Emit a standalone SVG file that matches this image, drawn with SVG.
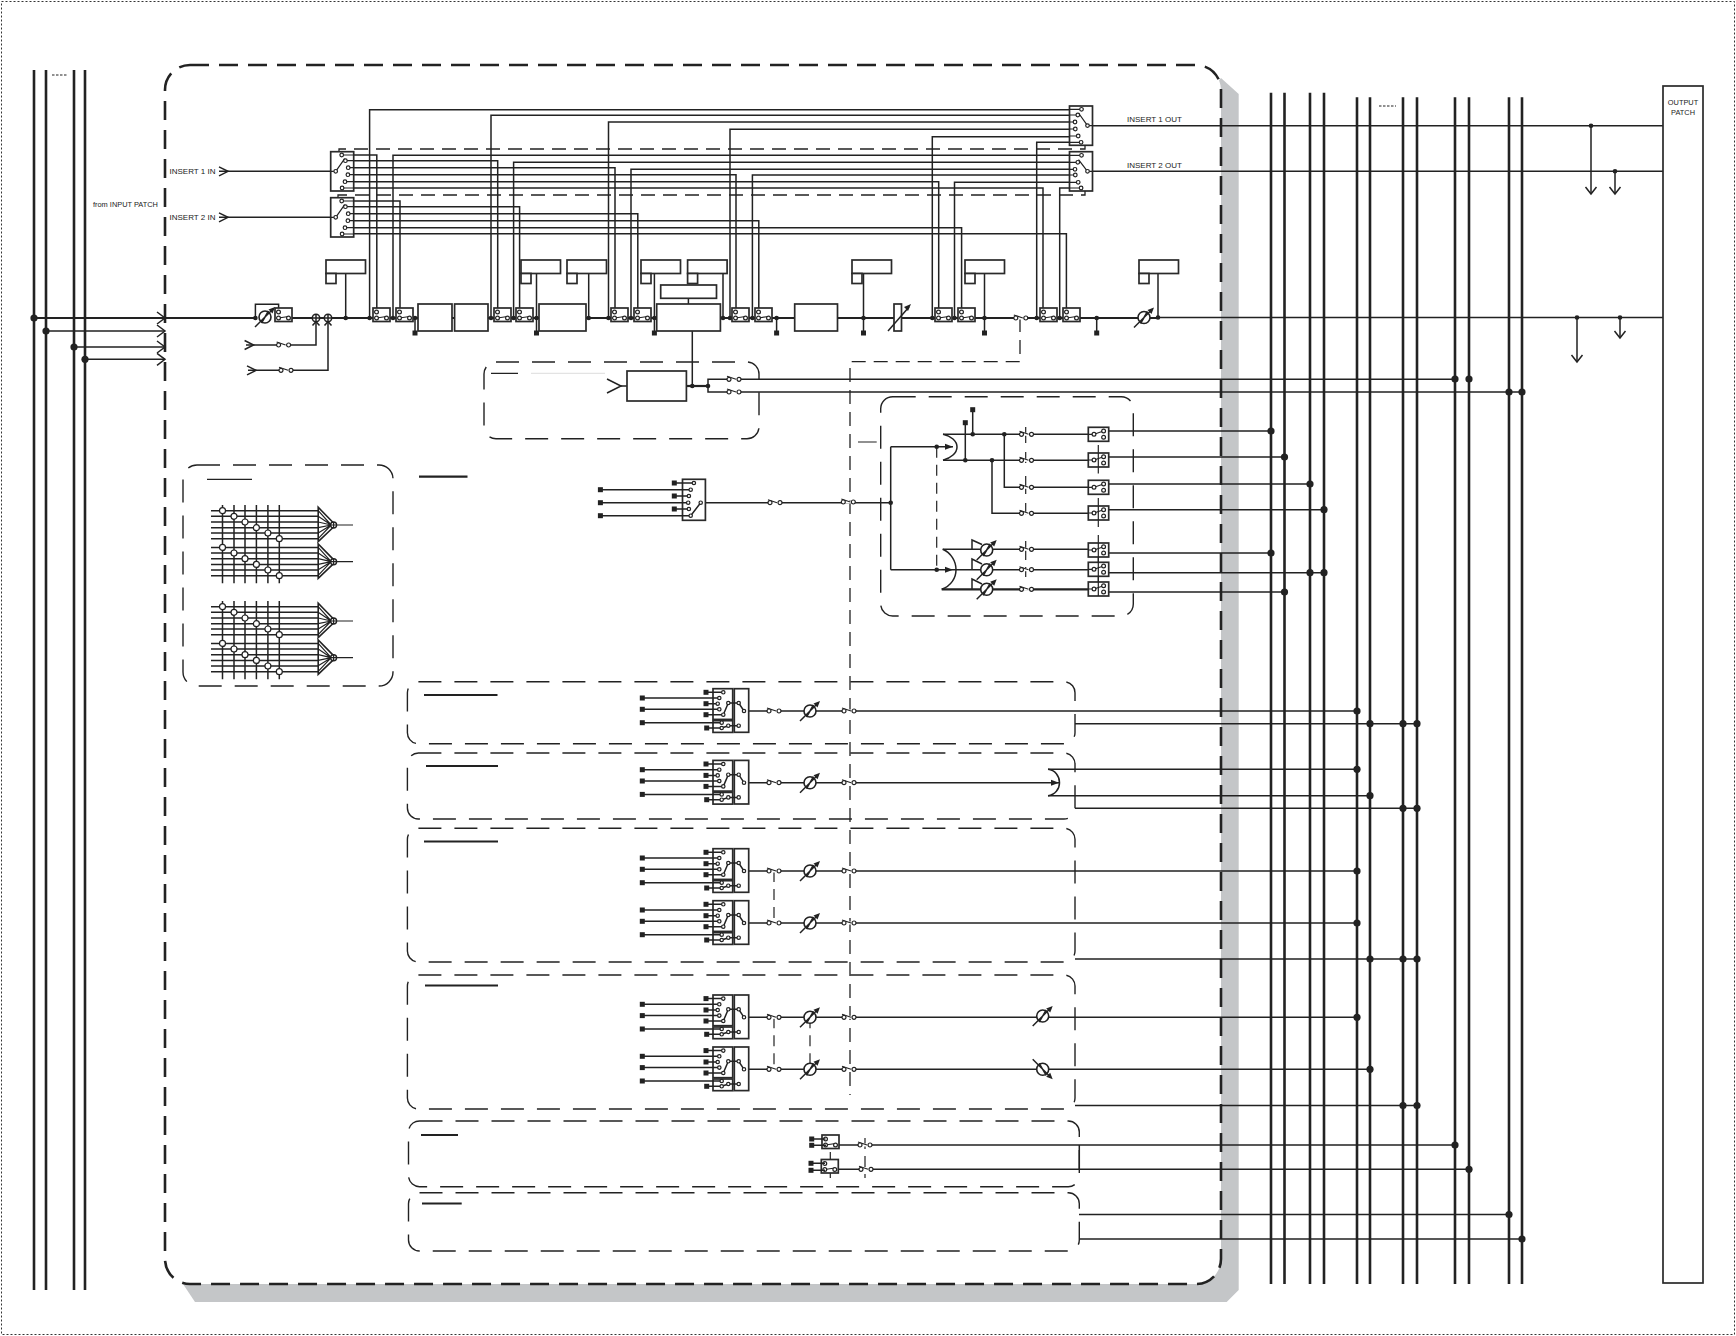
<svg xmlns="http://www.w3.org/2000/svg" width="1736" height="1336" viewBox="0 0 1736 1336">
<style>
.w{fill:none;stroke:#222;stroke-width:1.5}
.t{fill:none;stroke:#222;stroke-width:2.2}
.b{fill:none;stroke:#222;stroke-width:2.6}
.r{fill:#fff;stroke:#2a2a2a;stroke-width:1.7}
.c{fill:#fff;stroke:#222;stroke-width:1.2}
.f{fill:#222;stroke:none}
.n{fill:none;stroke:#222;stroke-width:1.2}
.d1{fill:#fff;stroke:#222;stroke-width:2.6;stroke-dasharray:19 10}
.d2{fill:none;stroke:#222;stroke-width:1.4;stroke-dasharray:23 13}
.d3{fill:none;stroke:#222;stroke-width:1.3;stroke-dasharray:14 8}
.d4{fill:none;stroke:#222;stroke-width:1.2;stroke-dasharray:11 7}
text{font-family:"Liberation Sans",Arial,sans-serif;font-size:8px;fill:#222}
</style>
<defs>
<g id="dot"><circle r="2.3" class="f"/></g>
<g id="bd"><circle r="3.6" class="f"/></g>
<g id="sq"><rect x="-2.5" y="-2.5" width="5" height="5" class="f"/></g>
<path id="chev" class="w" d="M-8,-6L0,0L-8,6"/>
<path id="chevs" class="w" d="M-9,-4.5L0,0L-9,4.5"/>
<path id="chevl" class="w" d="M-14,-7L0,0L-14,7"/>
<path id="down" class="w" d="M-5.5,-7L0,0L5.5,-7"/>
<g id="arrow"><polygon class="f" points="0,0 -8,-3 -8,3"/></g>
<g id="sw"><rect x="1" y="-1.5" width="8" height="3" fill="#fff"/><path class="n" d="M-2,-3L7,0"/><circle class="c" r="2"/><circle class="c" cx="10" r="2"/></g>
<g id="gain"><circle class="c" r="6" style="stroke-width:1.6"/><path class="w" d="M-10,10L8,-8M-3.5,6L3.5,-6"/><polygon class="f" points="10,-10 3.5,-7.5 7.5,-3.5"/></g>
<g id="ins"><rect class="r" width="17" height="13.5"/><path class="n" d="M3.5,10L13.5,8.5"/><circle class="c" cx="3.5" cy="4" r="1.9"/><circle class="c" cx="3.5" cy="10" r="1.9"/><circle class="c" cx="13.5" cy="10" r="1.9"/></g>
<g id="outbox"><rect class="r" width="20.4" height="14"/><path class="n" d="M5.7,7L15.3,3.7M0,7H5"/><circle class="c" cx="5.7" cy="7" r="1.9"/><circle class="c" cx="15.3" cy="3.7" r="1.9"/><circle class="c" cx="15.3" cy="10" r="1.9"/></g>
<g id="sel6"><rect class="r" width="23" height="39.3"/><path class="n" d="M11,3.3H23M14.7,9H23M17.5,16H23M17.2,23H23M14.3,30H23M11.4,36.3H23M0,19.6H5M5,19.6L14,7"/><circle class="c" cx="11" cy="3.3" r="1.8"/><circle class="c" cx="14.7" cy="9" r="1.8"/><circle class="c" cx="17.5" cy="16" r="1.8"/><circle class="c" cx="17.2" cy="23" r="1.8"/><circle class="c" cx="14.3" cy="30" r="1.8"/><circle class="c" cx="11.4" cy="36.3" r="1.8"/><circle class="c" cx="5" cy="19.6" r="1.8"/></g>
<g id="sel6b"><rect class="r" width="23" height="39.3"/><path class="n" d="M11,3.6H23M14.7,10.6H23M17.5,17.6H23M17.2,23.3H23M14.3,30.6H23M11.4,36.3H23M0,19.6H5M5,19.6L14,8"/><circle class="c" cx="11" cy="3.6" r="1.8"/><circle class="c" cx="14.7" cy="10.6" r="1.8"/><circle class="c" cx="17.5" cy="17.6" r="1.8"/><circle class="c" cx="17.2" cy="23.3" r="1.8"/><circle class="c" cx="14.3" cy="30.6" r="1.8"/><circle class="c" cx="11.4" cy="36.3" r="1.8"/><circle class="c" cx="5" cy="19.6" r="1.8"/></g>
<g id="meter"><rect class="r" width="39.5" height="13.5"/><rect class="r" y="13.5" width="10" height="10"/></g>
<g id="sum"><circle class="c" r="3.7" style="stroke-width:1.5"/><path class="w" d="M-3.7,0H3.7M0,-3.7V3.7M-3.5,7.5L0,3.7L3.5,7.5"/></g>
<g id="mix"><path d="M0,-17.7V16.7L15.4,2V-2Z" fill="#fff" stroke="#222" stroke-width="1.6"/><path class="n" d="M0,-14.3L13,0M0,-8.7L13,0M0,-3L13,0M0,2.7L13,0M0,8L13,0M0,13.7L13,0"/><circle class="c" cx="15.4" r="3" style="stroke-width:1.4"/><path class="n" d="M12.4,0H34.8M15.4,-3V3"/></g>
<g id="matrix">
<path class="w" d="M0,-14.3H107.2M0,-8.7H107.2M0,-3H107.2M0,2.7H107.2M0,8H107.2M0,13.7H107.2M0,22.4H107.2M0,28H107.2M0,33.7H107.2M0,39.4H107.2M0,45H107.2M0,50.7H107.2M11.5,-20V58.3M23,-20V58.3M34,-20V58.3M45.4,-20V58.3M56.9,-20V58.3M68.3,-20V58.3"/>
<g class="c"><circle cx="11.5" cy="-14.3" r="3"/><circle cx="23" cy="-8.7" r="3"/><circle cx="34" cy="-3" r="3"/><circle cx="45.4" cy="2.7" r="3"/><circle cx="56.9" cy="8" r="3"/><circle cx="68.3" cy="13.7" r="3"/><circle cx="11.5" cy="22.4" r="3"/><circle cx="23" cy="28" r="3"/><circle cx="34" cy="33.7" r="3"/><circle cx="45.4" cy="39.4" r="3"/><circle cx="56.9" cy="45" r="3"/><circle cx="68.3" cy="50.7" r="3"/></g>
<use href="#mix" x="107.2"/><use href="#mix" x="107.2" y="36.7"/>
</g>
<g id="strip">
<rect class="r" x="93" y="-22.3" width="19.7" height="30.7"/><rect class="r" x="93" y="9.7" width="19.7" height="11.7"/><rect class="r" x="114.3" y="-22.3" width="14.4" height="43.6"/>
<path class="w" d="M22.3,-13H99.3M22.3,-1.7H99.3M22.3,11.7H101.7M86,-18.7H103.3M86,-7.3H97.7M86,3.7H103.3M86.7,17H101.7M103.3,3.7L108.3,-8H118.7L124,0M101.7,17L108.3,14.7H118.7"/>
<use href="#sq" x="22.3" y="-13"/><use href="#sq" x="22.3" y="-1.7"/><use href="#sq" x="22.3" y="11.7"/><use href="#sq" x="86" y="-18.7"/><use href="#sq" x="86" y="-7.3"/><use href="#sq" x="86" y="3.7"/><use href="#sq" x="86.7" y="17"/>
<g class="c"><circle cx="103.3" cy="-18.7" r="1.7"/><circle cx="99.3" cy="-13" r="1.7"/><circle cx="97.7" cy="-7.3" r="1.7"/><circle cx="99.3" cy="-1.7" r="1.7"/><circle cx="103.3" cy="3.7" r="1.7"/><circle cx="108.3" cy="-8" r="1.7"/><circle cx="118.7" cy="-8" r="1.7"/><circle cx="124" cy="0" r="1.7"/><circle cx="101.7" cy="11.7" r="1.7"/><circle cx="101.7" cy="17" r="1.7"/><circle cx="108.3" cy="14.7" r="1.7"/><circle cx="118.7" cy="14.7" r="1.7"/></g>
</g>
</defs>
<rect x="1.5" y="1.5" width="1733" height="1333" fill="#fff" stroke="#333" stroke-width="1" stroke-dasharray="2 2"/>
<g id="frames">
<polygon points="183,1284 195,1302 1226.7,1302 1238.7,1290 1238.7,94 1221,78" fill="#c4c6c8"/>
<rect class="d1" x="165" y="65" width="1056" height="1219" rx="25"/>
<rect class="d2" x="484" y="362" width="275" height="76.7" rx="12"/>
<rect class="d2" x="183" y="465" width="210" height="221" rx="14"/>
<rect class="d2" x="880.7" y="396.7" width="252.6" height="219.3" rx="12"/>
<rect class="d2" x="407.4" y="681.7" width="667.6" height="62" rx="11"/>
<rect class="d2" x="407.4" y="753" width="667.6" height="66" rx="11"/>
<rect class="d2" x="407.4" y="828.3" width="667.6" height="133.7" rx="11"/>
<rect class="d2" x="407.4" y="975" width="667.6" height="134" rx="11"/>
<rect class="d2" x="408.5" y="1121" width="670.8" height="65.7" rx="11"/>
<rect class="d2" x="408.5" y="1192.7" width="670.8" height="58.3" rx="11"/>
<path class="d3" d="M339,156V149H1085V141M338,200V195H1085V188"/>
<path class="d3" d="M1020,318V361.7H850V1095"/>
</g>
<g id="connectors">
<path class="b" d="M34,70V1290M46,70V1290M74,70V1290M85,70V1290M1271,92.7V1284M1284.5,92.7V1284M1310,92.7V1284M1324,92.7V1284M1357,97.3V1284M1370,97.3V1284M1403,97.3V1284M1417,97.3V1284M1455,97.3V1284M1469,97.3V1284M1509,97.3V1284M1522,97.3V1284"/>
<path stroke="#222" stroke-width="1.2" stroke-dasharray="2.5 1.5" fill="none" d="M52,75H68M1379,106H1396"/>
<path class="t" d="M34,318H255M292,318H1158"/>
<path class="w" d="M46,331H165M74,347H165M85,359.3H165"/>
<path class="w" d="M219,171.3H331M219,217.3H331M1092.5,125.7H1663M1092.5,171.3H1663M1158,317.5H1663"/>
<path class="w" d="M1591,125.7V194M1615,171.3V194M1577,317.5V362M1620,317.5V338"/>
<path class="w" d="M1069.5,109.7H369.6V318M1069.5,115.3H491V318M1069.5,122H608.5V318M1069.5,129.3H730V318M1069.5,136.7H932.3V318M1069.5,142.3H1036.7V318"/>
<path class="w" d="M1069.5,155.3H393V318M1069.5,162.3H513.6V318M1069.5,169.3H631V318M1069.5,175H752.4V318M1069.5,182.3H954.5V318M1069.5,188H1059.7V318"/>
<path class="w" d="M353.6,155H376.8V308M353.6,160.7H497.7V308M353.6,167.7H615V308M353.6,174.7H736V308M353.6,181.7H938.7V308M353.6,188H1043V308"/>
<path class="w" d="M353.6,201H400V308M353.6,206.7H519.6V308M353.6,213.7H637.8V308M353.6,220.7H758.8V308M353.6,227.7H961.6V308M353.6,233.7H1066.4V308"/>
<path class="w" d="M345.7,273V318M536.5,273V332M588.7,273V318M654.4,273V332M723,273V318M688.4,298V304M863.5,273V332M984.5,273V332M1158,273V317M415,318V332M776.6,318V333M1096.7,318V332"/>
<path class="w" d="M246,345H316V321M248,370.3H328V321"/>
<path class="w" d="M692.3,331V386M621,386H627M708,386V379.3H1455M708,386V392H1522"/>
<path class="t" d="M686,386H708"/>
<path class="w" d="M700.7,502.7H890.7M890.7,446.7V569.7M890.7,446.7H953M890.7,569.7H953"/>
<path class="d4" d="M936.7,446.7V569.7"/>
<path class="n" d="M1025.7,427V443M1025.7,452V463M1025.7,476V494M1025.7,503V515M1025.7,541V560M1025.7,567V577M1098.3,445V453M1098.3,467V473.5M1098.3,498V506M1098.3,520V527M1098.3,535V543M1098.3,556.7V562.3M1098.3,576.3V582"/>
<path class="w" d="M943,434.3C951,436 957,441 957,447C957,453 951,458 943,460.3M942.7,549.3C951,553 956,561 956,569.7C956,578 951,586 941.7,589.3"/>
<path class="w" d="M943,434.3H1088M943,460.3H1088M1004.3,434.3V487.3H1088M992,460.3V513.3H1088M942.7,549.3H1088M953,569.7H1088M972.7,434.3V412M965.3,460.3V425"/>
<path class="t" d="M941.7,589.3H1088"/>
<path class="w" d="M1108.7,431H1271M1108.7,457H1284.5M1108.7,484H1310M1108.7,509.7H1324M1108.7,553H1271M1108.7,572.7H1324M1108.7,592H1284.5"/>
<path class="w" d="M748.7,711H1357M1075,723.7H1417M748.7,782.7H1059M1048,769.3H1357M1048,795.7H1370M1075,808.3H1417M748.7,871H1357M748.7,923H1357M1075,959H1417M748.7,1017.3H1357M748.7,1069.3H1370M1075,1105.5H1417"/>
<path class="w" d="M1048,769.3C1055,770 1059.5,776 1059.5,782.7C1059.5,789 1055,795 1048,795.7"/>
<path class="d4" d="M774,871V923M774,1017.3V1069.3M810,1017.3V1069.3M830.3,1152V1178M865,1138V1178"/>
<path class="w" d="M839,1145H1455M838.5,1169.3H1469M1079.3,1145V1169.3M1079,1214.5H1509M1079,1239H1522"/>
<path class="n" d="M491,373.3H518M858,442H876.7M207,479.3H252"/>
<path stroke="#ddd" stroke-width="1" fill="none" d="M531,373.3H605"/>
<path class="t" d="M419,476.7H467.5M424,695H497.5M426,766H498M424,841.5H498M425,985.5H498M421,1135H458M422,1203.5H461.7"/>
<use href="#bd" x="34" y="318"/><use href="#bd" x="46" y="331"/><use href="#bd" x="74" y="347"/><use href="#bd" x="85" y="359.3"/>
<use href="#bd" x="1455" y="379"/><use href="#bd" x="1469" y="379"/><use href="#bd" x="1509" y="392"/><use href="#bd" x="1522" y="392"/>
<use href="#bd" x="1271" y="431"/><use href="#bd" x="1284.5" y="457"/><use href="#bd" x="1310" y="484"/><use href="#bd" x="1324" y="509.7"/><use href="#bd" x="1271" y="553"/><use href="#bd" x="1310" y="572.7"/><use href="#bd" x="1324" y="572.7"/><use href="#bd" x="1284.5" y="592"/>
<use href="#bd" x="1357" y="711"/><use href="#bd" x="1370" y="723.7"/><use href="#bd" x="1403" y="723.7"/><use href="#bd" x="1417" y="723.7"/><use href="#bd" x="1357" y="769.3"/><use href="#bd" x="1370" y="795.7"/><use href="#bd" x="1403" y="808.3"/><use href="#bd" x="1417" y="808.3"/><use href="#bd" x="1357" y="871"/><use href="#bd" x="1357" y="923"/><use href="#bd" x="1370" y="959"/><use href="#bd" x="1403" y="959"/><use href="#bd" x="1417" y="959"/><use href="#bd" x="1357" y="1017.3"/><use href="#bd" x="1370" y="1069.3"/><use href="#bd" x="1403" y="1105.5"/><use href="#bd" x="1417" y="1105.5"/><use href="#bd" x="1455" y="1145"/><use href="#bd" x="1469" y="1169.3"/><use href="#bd" x="1509" y="1214.5"/><use href="#bd" x="1522" y="1239"/>
<use href="#dot" x="255.4" y="318"/><use href="#dot" x="345.7" y="318"/><use href="#dot" x="369.6" y="318"/><use href="#dot" x="393" y="318"/><use href="#dot" x="415" y="318"/><use href="#dot" x="491" y="318"/><use href="#dot" x="513.6" y="318"/><use href="#dot" x="536.5" y="318"/><use href="#dot" x="588.7" y="318"/><use href="#dot" x="608.5" y="318"/><use href="#dot" x="631" y="318"/><use href="#dot" x="654.4" y="318"/><use href="#dot" x="723" y="318"/><use href="#dot" x="730" y="318"/><use href="#dot" x="752.4" y="318"/><use href="#dot" x="776.6" y="318"/><use href="#dot" x="863.5" y="318"/><use href="#dot" x="932.3" y="318"/><use href="#dot" x="954.5" y="318"/><use href="#dot" x="984.5" y="318"/><use href="#dot" x="1036.7" y="318"/><use href="#dot" x="1059.7" y="318"/><use href="#dot" x="1096.7" y="318"/><use href="#dot" x="1158" y="317.5"/><use href="#dot" x="1591" y="125.7"/><use href="#dot" x="1615" y="171.3"/><use href="#dot" x="1577" y="317.5"/><use href="#dot" x="1620" y="317.5"/><use href="#dot" x="692.3" y="386"/><use href="#dot" x="708" y="386"/><use href="#dot" x="890.7" y="502.7"/><use href="#dot" x="936.7" y="446.7"/><use href="#dot" x="936.7" y="569.7"/><use href="#dot" x="972.7" y="434.3"/><use href="#dot" x="965.3" y="460.3"/><use href="#dot" x="1004.3" y="434.3"/><use href="#dot" x="992" y="460.3"/>
<use href="#sq" x="415" y="333"/><use href="#sq" x="536.5" y="333"/><use href="#sq" x="654.4" y="333"/><use href="#sq" x="776.6" y="333"/><use href="#sq" x="863.5" y="333"/><use href="#sq" x="984.5" y="333"/><use href="#sq" x="1096.7" y="333"/><use href="#sq" x="972.7" y="409.7"/><use href="#sq" x="965.3" y="422.7"/>
<use href="#chev" x="165" y="318"/><use href="#chev" x="165" y="331"/><use href="#chev" x="165" y="347"/><use href="#chev" x="165" y="359.3"/><use href="#chevs" x="228" y="171.3"/><use href="#chevs" x="228" y="217.3"/><use href="#chevs" x="253.6" y="345"/><use href="#chevs" x="256" y="370.3"/><use href="#chevl" x="621" y="386"/>
<use href="#down" x="1591" y="194"/><use href="#down" x="1615" y="194"/><use href="#down" x="1577" y="362"/><use href="#down" x="1620" y="338"/>
<use href="#arrow" x="953" y="446.7"/><use href="#arrow" x="953" y="569.7"/><use href="#arrow" x="1059" y="782.7"/>
</g>
<g id="insert-in-1"><use href="#sel6" transform="translate(330.7,151.7)"/><text x="169.5" y="174.3">INSERT 1 IN</text></g>
<g id="insert-in-2"><use href="#sel6" transform="translate(330.7,197.7)"/><text x="169.5" y="220.3">INSERT 2 IN</text></g>
<g id="insert-out-1"><use href="#sel6" transform="translate(1092.5,106) scale(-1,1)"/><text x="1127" y="122">INSERT 1 OUT</text></g>
<g id="insert-out-2"><use href="#sel6b" transform="translate(1092.5,151.7) scale(-1,1)"/><text x="1127" y="168">INSERT 2 OUT</text></g>
<g id="from-input"><text x="93" y="207" style="font-size:7.4px">from INPUT PATCH</text></g>
<g id="output-patch"><rect class="r" x="1663" y="86" width="40" height="1197"/><text x="1683" y="105" text-anchor="middle" style="font-size:7.4px">OUTPUT</text><text x="1683" y="115" text-anchor="middle" style="font-size:7.4px">PATCH</text></g>
<g id="preamp"><path class="w" d="M255.4,318V304.3H278.6V308"/><use href="#gain" x="265" y="317"/><use href="#ins" x="275" y="308"/><use href="#sum" x="316" y="318"/><use href="#sum" x="328" y="318"/><use href="#sw" x="278.6" y="345"/><use href="#sw" x="281" y="370.3"/></g>
<g id="insert-points"><use href="#ins" x="373" y="308"/><use href="#ins" x="396" y="308"/><use href="#ins" x="494" y="308"/><use href="#ins" x="516" y="308"/><use href="#ins" x="611" y="308"/><use href="#ins" x="634" y="308"/><use href="#ins" x="732" y="308"/><use href="#ins" x="755" y="308"/><use href="#ins" x="935" y="308"/><use href="#ins" x="958" y="308"/><use href="#ins" x="1040" y="308"/><use href="#ins" x="1063" y="308"/></g>
<g id="meters"><use href="#meter" x="326" y="260"/><use href="#meter" x="521" y="260"/><use href="#meter" x="567" y="260"/><use href="#meter" x="641" y="260"/><use href="#meter" x="687.6" y="260"/><use href="#meter" x="852" y="260"/><use href="#meter" x="965" y="260"/><use href="#meter" x="1139" y="260"/><rect class="r" x="660.7" y="285" width="55.8" height="13.3"/></g>
<g id="chain-blocks"><rect class="r" x="418" y="304" width="34" height="27"/><rect class="r" x="454.6" y="304" width="33.4" height="27"/><rect class="r" x="539" y="304" width="47" height="27"/><rect class="r" x="656.7" y="304" width="63.7" height="27"/><rect class="r" x="794.7" y="304" width="42.8" height="27"/><rect class="r" x="894" y="304" width="7.5" height="27"/><path class="w" d="M888,331L909,307"/><polygon class="f" points="911,304 904,307 908,311"/></g>
<g id="chain-end"><use href="#sw" x="1015.8" y="318"/><use href="#gain" x="1144" y="317.5"/></g>
<g id="effect"><rect class="r" x="627" y="371" width="59.4" height="30"/><use href="#sw" x="729" y="379.3"/><use href="#sw" x="729" y="392"/></g>
<g id="mixer"><use href="#matrix" x="211" y="525"/><use href="#matrix" x="211" y="621"/></g>
<g id="selector"><rect class="r" x="682.5" y="479.3" width="22.9" height="41"/><path class="w" d="M600.4,489.7H690.7M600.4,502.7H688.2M600.4,515.7H690.7M674.3,483H693.9M674.3,496H688.9M674.3,509H688.9M690.7,515.7L700.7,502.7"/><use href="#sq" x="600.4" y="489.7"/><use href="#sq" x="600.4" y="502.7"/><use href="#sq" x="600.4" y="515.7"/><use href="#sq" x="674.3" y="483"/><use href="#sq" x="674.3" y="496"/><use href="#sq" x="674.3" y="509"/><g class="c"><circle cx="693.9" cy="483" r="1.7"/><circle cx="690.7" cy="489.7" r="1.7"/><circle cx="688.9" cy="496" r="1.7"/><circle cx="688.2" cy="502.7" r="1.7"/><circle cx="688.9" cy="509" r="1.7"/><circle cx="690.7" cy="515.7" r="1.7"/><circle cx="700.7" cy="502.7" r="1.7"/></g><use href="#sw" x="770" y="502.7"/><use href="#sw" x="843.3" y="502"/></g>
<g id="matrix-out"><use href="#sw" x="1021.5" y="434.3"/><use href="#sw" x="1021.5" y="460.3"/><use href="#sw" x="1021.5" y="487.3"/><use href="#sw" x="1021.5" y="513.3"/><use href="#sw" x="1021.5" y="549.3"/><use href="#sw" x="1021.5" y="569.7"/><use href="#sw" x="1021.5" y="589.3"/>
<use href="#outbox" x="1088.3" y="427.3"/><use href="#outbox" x="1088.3" y="453"/><use href="#outbox" x="1088.3" y="480.3"/><use href="#outbox" x="1088.3" y="506"/><use href="#outbox" x="1088.3" y="543"/><use href="#outbox" x="1088.3" y="562.3"/><use href="#outbox" x="1088.3" y="582"/>
<path class="n" d="M1098.3,453V467M1098.3,506V520M1098.3,543V596"/>
<path class="w" d="M972,549.3V540L982,544.5M972,569.7V559L982,564M972,589.3V579L982,584"/><use href="#gain" x="986.7" y="550"/><use href="#gain" x="986.7" y="569.7"/><use href="#gain" x="986.7" y="589.3"/></g>
<g id="strip-1"><use href="#strip" transform="translate(620,711)"/><use href="#sw" x="769" y="711"/><use href="#gain" x="810" y="711"/><use href="#sw" x="844" y="711"/></g>
<g id="strip-2"><use href="#strip" transform="translate(620,782.7)"/><use href="#sw" x="769" y="782.7"/><use href="#gain" x="810" y="782.7"/><use href="#sw" x="844" y="782.7"/></g>
<g id="strip-3"><use href="#strip" transform="translate(620,871)"/><use href="#sw" x="769" y="871"/><use href="#gain" x="810" y="871"/><use href="#sw" x="844" y="871"/></g>
<g id="strip-4"><use href="#strip" transform="translate(620,923)"/><use href="#sw" x="769" y="923"/><use href="#gain" x="810" y="923"/><use href="#sw" x="844" y="923"/></g>
<g id="strip-5"><use href="#strip" transform="translate(620,1017.3)"/><use href="#sw" x="769" y="1017.3"/><use href="#gain" x="810" y="1017.3"/><use href="#sw" x="844" y="1017.3"/><use href="#gain" transform="translate(1042.7,1016)"/></g>
<g id="strip-6"><use href="#strip" transform="translate(620,1069.3)"/><use href="#sw" x="769" y="1069.3"/><use href="#gain" x="810" y="1069.3"/><use href="#sw" x="844" y="1069.3"/><use href="#gain" transform="translate(1042.7,1069.3) scale(1,-1)"/></g>
<g id="aux-out"><use href="#ins" x="822" y="1135"/><use href="#ins" x="821.3" y="1159.5"/><path class="w" d="M811.7,1139H825.5M811.7,1145.3H826M811,1163.3H825M811,1170.3H825"/><use href="#sq" x="811.7" y="1139"/><use href="#sq" x="811.7" y="1145.3"/><use href="#sq" x="811" y="1163.3"/><use href="#sq" x="811" y="1170.3"/><use href="#sw" x="860" y="1145"/><use href="#sw" x="861" y="1169.3"/></g>
</svg>
